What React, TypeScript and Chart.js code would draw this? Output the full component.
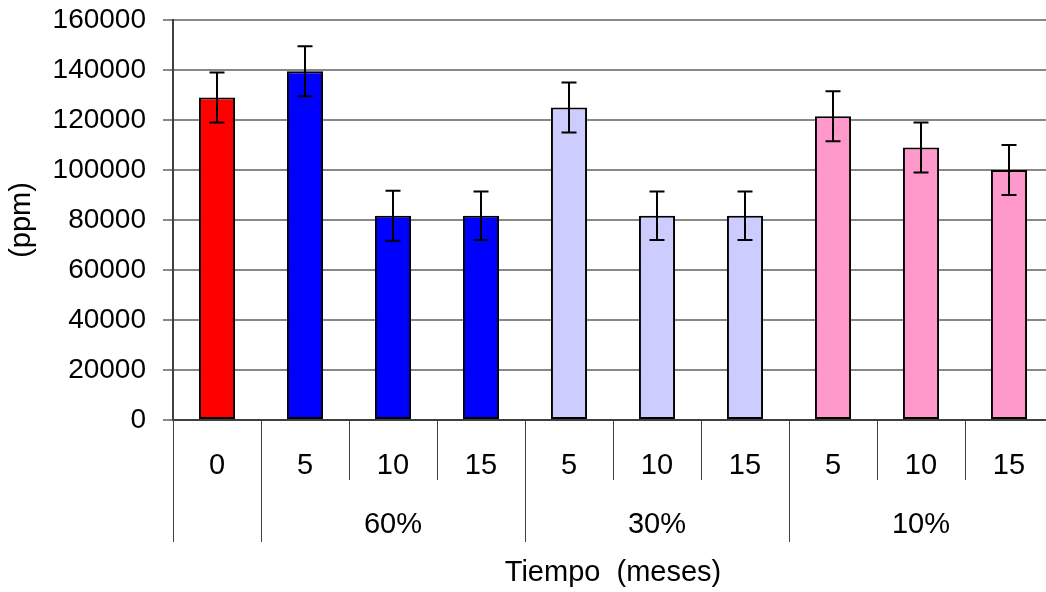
import React, { useEffect, useRef } from "react";
import { Chart, registerables } from "chart.js";

Chart.register(...registerables);

const timeLabels = ["0", "5", "10", "15", "5", "10", "15", "5", "10", "15"];
const groupLabels = ["", "60%", "30%", "10%"];
const groupSizes = [1, 3, 3, 3];
const meanValues = [129000, 139500, 81700, 81700, 125000, 81700, 81700, 121500, 109000, 100000];
const errorValues = [10000, 10000, 10000, 9700, 10000, 9700, 9700, 10000, 10000, 10000];
const barColors = [
  "#FF0000",
  "#0000FF", "#0000FF", "#0000FF",
  "#CCCCFF", "#CCCCFF", "#CCCCFF",
  "#FF99CC", "#FF99CC", "#FF99CC",
];
const yMin = 0;
const yMax = 160000;
const yStep = 20000;
const yTitle = "(ppm)";
const xTitle = "Tiempo  (meses)";

const FONT = "'Liberation Sans', Arial, sans-serif";

export default function App() {
  const canvasRef = useRef<HTMLCanvasElement | null>(null);

  useEffect(() => {
    const canvas = canvasRef.current;
    if (!canvas) return;

    const errorBarPlugin = {
      id: "errorBars",
      afterDatasetsDraw(chart: any) {
        const ctx = chart.ctx;
        const meta = chart.getDatasetMeta(0);
        const y = chart.scales.y;
        ctx.save();
        ctx.strokeStyle = "#000000";
        ctx.lineWidth = 2;
        meta.data.forEach((bar: any, i: number) => {
          const x = Math.round(bar.x);
          const yt = y.getPixelForValue(meanValues[i] + errorValues[i]);
          const yb = y.getPixelForValue(meanValues[i] - errorValues[i]);
          ctx.beginPath();
          ctx.moveTo(x, yt);
          ctx.lineTo(x, yb);
          ctx.moveTo(x - 7.5, yt);
          ctx.lineTo(x + 7.5, yt);
          ctx.moveTo(x - 7.5, yb);
          ctx.lineTo(x + 7.5, yb);
          ctx.stroke();
        });
        ctx.restore();
      },
    };

    const axisLabelPlugin = {
      id: "hierLabels",
      afterDraw(chart: any) {
        const ctx = chart.ctx;
        const xs = chart.scales.x;
        const area = chart.chartArea;
        const n = timeLabels.length;
        const bound = (k: number) => {
          if (k === 0) return area.left;
          if (k === n) return area.right;
          return (xs.getPixelForValue(k - 1) + xs.getPixelForValue(k)) / 2;
        };
        const groupStarts: number[] = [];
        let acc = 0;
        groupSizes.forEach((s) => {
          groupStarts.push(acc);
          acc += s;
        });
        groupStarts.push(acc);

        ctx.save();
        ctx.strokeStyle = "#404040";
        ctx.lineWidth = 1;
        for (let k = 0; k <= n; k++) {
          const bx = Math.round(bound(k)) + 0.5;
          const isGroup = groupStarts.includes(k);
          ctx.beginPath();
          ctx.moveTo(bx, area.bottom);
          ctx.lineTo(bx, isGroup ? area.bottom + 122 : area.bottom + 60);
          ctx.stroke();
        }

        ctx.fillStyle = "#000000";
        ctx.textAlign = "center";
        ctx.textBaseline = "middle";
        ctx.font = `29px ${FONT}`;
        timeLabels.forEach((t, i) => {
          ctx.fillText(t, xs.getPixelForValue(i), area.bottom + 46);
        });
        groupLabels.forEach((g, gi) => {
          if (!g) return;
          const a = bound(groupStarts[gi]);
          const b = bound(groupStarts[gi + 1]);
          ctx.fillText(g, (a + b) / 2, area.bottom + 105);
        });
        ctx.fillText(xTitle, (area.left + area.right) / 2, area.bottom + 153);
        ctx.restore();
      },
    };

    const chart = new Chart(canvas, {
      type: "bar",
      data: {
        labels: timeLabels,
        datasets: [
          {
            data: meanValues,
            backgroundColor: barColors,
            borderColor: "#000000",
            borderWidth: 2,
            borderSkipped: false,
            barPercentage: 0.41,
            categoryPercentage: 1,
          },
        ],
      },
      options: {
        responsive: false,
        animation: false,
        devicePixelRatio: 1,
        layout: { padding: { top: 20, right: 3, bottom: 0, left: 0 } },
        plugins: {
          legend: { display: false },
          tooltip: { enabled: false },
          title: { display: false },
        },
        scales: {
          x: {
            type: "category",
            offset: true,
            grid: { display: false, drawTicks: false },
            border: { display: true, color: "#404040", width: 2 },
            ticks: { display: false },
            afterFit(scale: any) {
              scale.height = 172;
              scale.paddingLeft = 0;
              scale.paddingRight = 0;
            },
          },
          y: {
            min: yMin,
            max: yMax,
            ticks: {
              stepSize: yStep,
              color: "#000000",
              font: { family: FONT, size: 28 },
              padding: 17,
              callback: (v: any) => String(v),
            },
            grid: {
              color: "#888888",
              lineWidth: 2,
              drawTicks: true,
              tickLength: 10,
            },
            border: { display: true, color: "#404040", width: 2 },
            title: {
              display: true,
              text: yTitle,
              color: "#000000",
              font: { family: FONT, size: 29 },
              padding: { top: 5, bottom: 0 },
            },
            afterFit(scale: any) {
              scale.width = 173;
              scale.paddingTop = 0;
              scale.paddingBottom = 0;
            },
          },
        },
      },
      plugins: [errorBarPlugin, axisLabelPlugin],
    } as any);

    return () => {
      chart.destroy();
    };
  }, []);

  return (
    <div
      style={{
        position: "fixed",
        left: 0,
        top: 0,
        width: 1046,
        height: 592,
        overflow: "hidden",
        background: "#ffffff",
      }}
    >
      <canvas
        ref={canvasRef}
        width={1056}
        height={592}
        style={{ display: "block", width: 1056, height: 592 }}
      />
    </div>
  );
}
